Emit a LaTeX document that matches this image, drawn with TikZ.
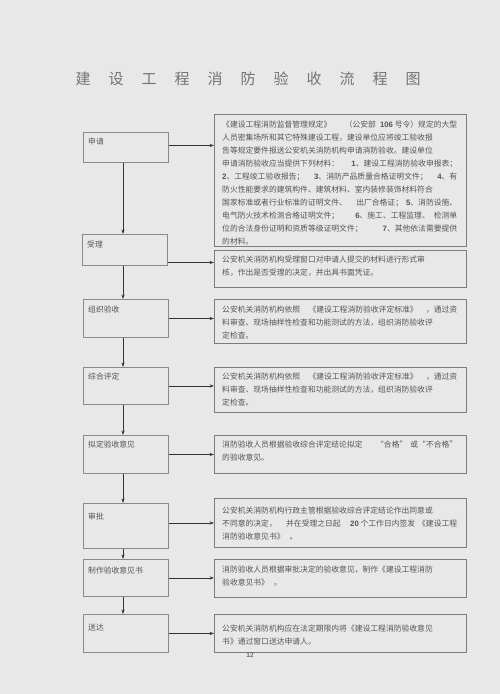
\documentclass[tikz,border=0pt]{standalone}
\usepackage{fontspec}
\usetikzlibrary{arrows.meta,calc}
\newfontfamily\cjk{Noto Sans CJK SC}
\newfontfamily\lat{Liberation Sans}
\newcommand\nm[1]{{\lat\bfseries #1}}
\newcommand\gap{\hfill{}}
\newcommand\fullline[1]{\makebox[235pt][l]{#1}}
\definecolor{bgc}{HTML}{E8E8E8}
\definecolor{bdc}{HTML}{8A8A8A}
\definecolor{txc}{HTML}{555555}
\definecolor{arc}{HTML}{333333}
\tikzset{
  lbox/.style={draw=bdc, line width=0.9pt, minimum width=85pt, anchor=north west, inner sep=0pt},
  rbox/.style={draw=bdc!90!black, line width=1.1pt, minimum width=252pt, anchor=north west, inner sep=0pt},
  lab/.style={anchor=west, inner sep=0pt, text=txc, font=\cjk\fontsize{7.8pt}{9pt}\selectfont},
  desc/.style={anchor=north west, inner sep=0pt, align=left, text=txc, font=\cjk\fontsize{7.8pt}{13pt}\selectfont},
  arr/.style={draw=arc, line width=0.7pt, -{Stealth[length=4.5pt,width=3.2pt]}}
}
\begin{document}
\begin{tikzpicture}[x=1pt,y=-1pt]
\useasboundingbox (0,0) rectangle (500,694);
\fill[bgc] (0,0) rectangle (500,694);
\node[text=black!55, font=\cjk\fontsize{15pt}{17pt}\selectfont, inner sep=0pt] (title) at (248,79)
 {建\hspace{18pt}设\hspace{18pt}工\hspace{18pt}程\hspace{18pt}消\hspace{18pt}防\hspace{18pt}验\hspace{18pt}收\hspace{18pt}流\hspace{18pt}程\hspace{18pt}图};
\coordinate (vx) at (123,0);
% left boxes
\node[lbox, minimum height=30pt] (L1) at (83,132) {};
\node[lbox, minimum height=31pt] (L2) at (82,234) {};
\node[lbox, minimum height=38pt] (L3) at (83,299) {};
\node[lbox, minimum height=37pt] (L4) at (83,367) {};
\node[lbox, minimum height=38pt] (L5) at (83,435) {};
\node[lbox, minimum height=45pt] (L6) at (83,503) {};
\node[lbox, minimum height=37pt] (L7) at (83,559) {};
\node[lbox, minimum height=38pt] (L8) at (83,614) {};
\node[lab] (L1t) at (88,142) {申请};
\node[lab] (L2t) at (87,245) {受理};
\node[lab] (L3t) at (88,310) {组织验收};
\node[lab] (L4t) at (88,377) {综合评定};
\node[lab] (L5t) at (88,445) {拟定验收意见};
\node[lab] (L6t) at (88,516) {审批};
\node[lab] (L7t) at (88,570) {制作验收意见书};
\node[lab] (L8t) at (88,628) {送达};
% right boxes
\node[rbox, minimum height=132pt] (R1) at (214,114) {};
\node[rbox, minimum height=37pt] (R2) at (214,250) {};
\node[rbox, minimum height=44pt] (R3) at (214,299) {};
\node[rbox, minimum height=45pt] (R4) at (214,367) {};
\node[rbox, minimum height=38pt] (R5) at (214,435) {};
\node[rbox, minimum height=49pt] (R6) at (214,498) {};
\node[rbox, minimum height=38pt] (R7) at (214,559) {};
\node[rbox, minimum height=38pt] (R8) at (214,614) {};
\node[desc] (R1t) at (222,120.5) {%
\fullline{《建设工程消防监督管理规定》\gap（公安部\hspace{4pt}\nm{106} 号令）规定的大型}\\
人员密集场所和其它特殊建设工程，建设单位应将竣工验收报\\
告等规定要件报送公安机关消防机构申请消防验收。建设单位\\
\fullline{申请消防验收应当提供下列材料：\gap\nm{1}、建设工程消防验收申报表；}\\
\fullline{\nm{2}、工程竣工验收报告；\gap\nm{3}、消防产品质量合格证明文件；\gap\nm{4}、有}\\
防火性能要求的建筑构件、建筑材料、室内装修装饰材料符合\\
\fullline{国家标准或者行业标准的证明文件、\gap 出厂合格证；\hspace{3pt}\nm{5}、消防设施、}\\
\fullline{电气防火技术检测合格证明文件；\gap\nm{6}、施工、工程监理、\hspace{4pt}检测单}\\
\fullline{位的合法身份证明和资质等级证明文件；\gap\nm{7}、其他依法需要提供}\\
的材料。};
\node[desc] (R2t) at (222,255.5) {%
公安机关消防机构受理窗口对申请人提交的材料进行形式审\\
核，作出是否受理的决定，并出具书面凭证。};
\node[desc] (R3t) at (222,306) {%
\fullline{公安机关消防机构依照\gap《建设工程消防验收评定标准》\gap，通过资}\\
料审查、现场抽样性检查和功能测试的方法，组织消防验收评\\
定检查。};
\node[desc] (R4t) at (222,373) {%
\fullline{公安机关消防机构依照\gap《建设工程消防验收评定标准》\gap，通过资}\\
料审查、现场抽样性检查和功能测试的方法，组织消防验收评\\
定检查。};
\node[desc] (R5t) at (222,441) {%
\fullline{消防验收人员根据验收综合评定结论拟定\gap“合格”\hspace{3pt}或“不合格”}\\
的验收意见。};
\node[desc] (R6t) at (222,507) {%
公安机关消防机构行政主管根据验收综合评定结论作出同意或\\
\fullline{不同意的决定，\gap 并在受理之日起\gap\nm{20} 个工作日内签发\hspace{3pt}《建设工程}\\
消防验收意见书》\hspace{5pt}。};
\node[desc] (R7t) at (222,566) {%
消防验收人员根据审批决定的验收意见，制作《建设工程消防\\
验收意见书》\hspace{5pt}。};
\node[desc] (R8t) at (222,625) {%
公安机关消防机构应在法定期限内将《建设工程消防验收意见\\
书》通过窗口送达申请人。};
% horizontal arrows
\draw[arr] ([yshift=2pt]L1.east) -- ([yshift=2pt]L1.east -| R1.west);
\draw[arr] ([yshift=-12.5pt]L2.east) -- ([yshift=-12.5pt]L2.east -| R2.west);
\draw[arr] (L3.east) -- (L3.east -| R3.west);
\draw[arr] (L4.east) -- (L4.east -| R4.west);
\draw[arr] (L5.east) -- (L5.east -| R5.west);
\draw[arr] ([yshift=3pt]L6.east) -- ([yshift=3pt]L6.east -| R6.west);
\draw[arr] (L7.east) -- (L7.east -| R7.west);
\draw[arr] (L8.east) -- (L8.east -| R8.west);
% vertical arrows
\draw[arr] (L1.south -| vx) -- (L2.north -| vx);
\draw[arr] (L2.south -| vx) -- (L3.north -| vx);
\draw[arr] (L3.south -| vx) -- (L4.north -| vx);
\draw[arr] (L4.south -| vx) -- (L5.north -| vx);
\draw[arr] (L5.south -| vx) -- (L6.north -| vx);
\draw[arr] (L6.south -| vx) -- (L7.north -| vx);
\draw[arr] (L7.south -| vx) -- (L8.north -| vx);
\node[font=\lat\fontsize{6.5pt}{7pt}\selectfont, text=black!80, inner sep=0pt] (pg) at (250,655) {12};
\end{tikzpicture}
\end{document}
